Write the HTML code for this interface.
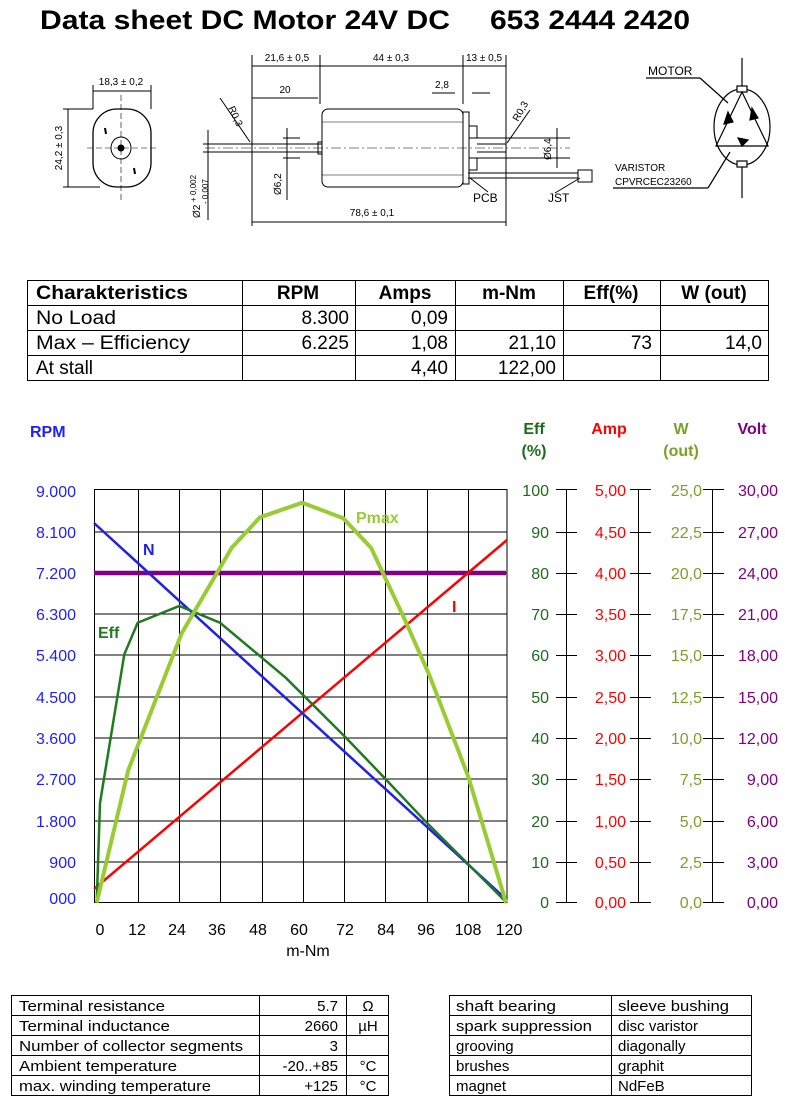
<!DOCTYPE html>
<html><head><meta charset="utf-8"><style>
html,body{margin:0;padding:0;background:#fff;}
svg{display:block;font-family:"Liberation Sans",Arial,sans-serif;}
</style></head><body>
<svg width="785" height="1119" viewBox="0 0 785 1119" xmlns="http://www.w3.org/2000/svg">
<text x="40" y="29" font-size="27" font-weight="bold" textLength="410" lengthAdjust="spacingAndGlyphs">Data sheet DC Motor 24V DC</text>
<text x="490" y="29" font-size="27" font-weight="bold" textLength="200" lengthAdjust="spacingAndGlyphs">653 2444 2420</text>

<g stroke="#000" fill="none" stroke-width="1">
  <rect x="93" y="109" width="58" height="78" rx="24" ry="24" stroke-width="1.3"/>
  <ellipse cx="121" cy="148" rx="10" ry="11"/>
  <circle cx="121" cy="148" r="3" fill="#000"/>
  <line x1="87" y1="148" x2="158" y2="148" stroke-dasharray="6,3" stroke-width="0.6"/>
  <line x1="121" y1="95" x2="121" y2="200" stroke-dasharray="6,3" stroke-width="0.6"/>
  <line x1="105" y1="128" x2="106" y2="134" stroke-width="2"/>
  <line x1="134" y1="168" x2="135" y2="174" stroke-width="2"/>
  <line x1="93" y1="91" x2="151" y2="91"/>
  <line x1="93" y1="85" x2="93" y2="109"/><line x1="151" y1="85" x2="151" y2="109"/>
  <line x1="68" y1="109" x2="68" y2="187"/>
  <line x1="63" y1="109" x2="93" y2="109"/><line x1="63" y1="187" x2="100" y2="187"/>
  <rect x="322" y="109" width="141" height="78" rx="6"/>
  <line x1="322" y1="122" x2="463" y2="122" stroke-width="0.6"/>
  <line x1="322" y1="175" x2="463" y2="175" stroke-width="0.6"/>
  <rect x="463" y="112" width="6" height="72"/>
  <rect x="469" y="126" width="8" height="12"/><rect x="469" y="158" width="8" height="12"/>
  <line x1="252" y1="144" x2="322" y2="144"/><line x1="252" y1="152" x2="322" y2="152"/>
  <line x1="477" y1="144" x2="506" y2="144"/><line x1="477" y1="152" x2="506" y2="152"/>
  <rect x="318" y="142" width="4" height="12"/>
  <line x1="205" y1="148" x2="570" y2="148" stroke-dasharray="10,3,2,3" stroke-width="0.6"/>
  <line x1="468" y1="173" x2="578" y2="173"/><line x1="468" y1="178" x2="578" y2="178"/>
  <rect x="578" y="170" width="14" height="12"/>
  <line x1="252" y1="55" x2="252" y2="226"/>
  <line x1="320" y1="55" x2="320" y2="104"/>
  <line x1="463" y1="55" x2="463" y2="104"/>
  <line x1="506" y1="55" x2="506" y2="226"/>
  <line x1="252" y1="66" x2="506" y2="66"/>
  <line x1="252" y1="98" x2="318" y2="98"/>
  <line x1="432" y1="93" x2="455" y2="93"/><line x1="472" y1="93" x2="490" y2="93"/>
  <line x1="252" y1="222" x2="506" y2="222"/>
  <line x1="287" y1="128" x2="287" y2="200"/>
  <line x1="283" y1="138" x2="300" y2="138"/><line x1="283" y1="158" x2="300" y2="158"/>
  <line x1="557" y1="128" x2="557" y2="168"/>
  <line x1="475" y1="138" x2="570" y2="138"/><line x1="475" y1="158" x2="570" y2="158"/>
  <line x1="208" y1="130" x2="208" y2="220"/>
  <line x1="203" y1="144" x2="252" y2="144"/><line x1="203" y1="152" x2="252" y2="152"/>
  <line x1="220" y1="98" x2="250" y2="142"/>
  <line x1="530" y1="110" x2="507" y2="143"/>
  <line x1="470" y1="178" x2="488" y2="192"/>
  <line x1="555" y1="193" x2="580" y2="178"/>
</g>
<g font-size="10" fill="#000">
  <text x="121" y="85" text-anchor="middle">18,3 ± 0,2</text>
  <text transform="translate(62,148) rotate(-90)" text-anchor="middle">24,2 ± 0,3</text>
  <text x="287" y="61" text-anchor="middle">21,6 ± 0,5</text>
  <text x="391" y="61" text-anchor="middle">44 ± 0,3</text>
  <text x="484" y="61" text-anchor="middle">13 ± 0,5</text>
  <text x="285" y="93" text-anchor="middle">20</text>
  <text x="442" y="88" text-anchor="middle">2,8</text>
  <text x="372" y="216" text-anchor="middle">78,6 ± 0,1</text>
  <text transform="translate(228,108) rotate(65)">R0,3</text>
  <text transform="translate(518,122) rotate(-60)">R0,3</text>
  <text transform="translate(281,195) rotate(-90)">Ø6,2</text>
  <text transform="translate(551,160) rotate(-90)">Ø6,4</text>
  <text transform="translate(200,218) rotate(-90)">Ø2 <tspan font-size="8" dy="-4">+ 0,002</tspan></text>
  <text transform="translate(208,218) rotate(-90)" font-size="8" dx="14">- 0,007</text>
  <text x="473" y="202" font-size="12">PCB</text>
  <text x="548" y="202" font-size="12">JST</text>
  <text x="648" y="75" font-size="12">MOTOR</text>
  <text x="615" y="171" font-size="10">VARISTOR</text>
  <text x="615" y="185" font-size="10">CPVRCEC23260</text>
</g>
<g stroke="#000" fill="none" stroke-width="1.2">
  <line x1="742" y1="58" x2="742" y2="198"/>
  <ellipse cx="742" cy="127" rx="28" ry="38" fill="#fff"/>
  <rect x="737" y="86" width="10" height="6" fill="#fff"/>
  <rect x="737" y="161" width="10" height="6" fill="#fff"/>
  <polygon points="742,92 716,146 768,146"/>
  <line x1="646" y1="78" x2="700" y2="78"/><line x1="700" y1="78" x2="728" y2="103"/>
  <line x1="613" y1="188" x2="708" y2="188"/><line x1="708" y1="188" x2="730" y2="152"/>
  <polygon points="728,112 733,122 724,124" fill="#000"/>
  <polygon points="752,108 758,118 750,120" fill="#000"/>
  <polygon points="738,138 748,140 742,146" fill="#000"/>
</g>

<g stroke="#000" stroke-width="1" fill="none">
  <rect x="27.5" y="280.5" width="741" height="100"/>
  <line x1="27" y1="305.5" x2="769" y2="305.5"/>
  <line x1="27" y1="330.5" x2="769" y2="330.5"/>
  <line x1="27" y1="355.5" x2="769" y2="355.5"/>
  <line x1="242.5" y1="280" x2="242.5" y2="381"/>
  <line x1="355.5" y1="280" x2="355.5" y2="381"/>
  <line x1="455.5" y1="280" x2="455.5" y2="381"/>
  <line x1="563.5" y1="280" x2="563.5" y2="381"/>
  <line x1="660.5" y1="280" x2="660.5" y2="381"/>
</g>
<g font-size="19" fill="#000">
  <g font-weight="bold">
  <text x="36" y="299" textLength="152" lengthAdjust="spacingAndGlyphs">Charakteristics</text>
  <text x="298" y="299" text-anchor="middle">RPM</text>
  <text x="405" y="299" text-anchor="middle">Amps</text>
  <text x="509" y="299" text-anchor="middle">m-Nm</text>
  <text x="611" y="299" text-anchor="middle">Eff(%)</text>
  <text x="714" y="299" text-anchor="middle">W (out)</text>
  </g>
  <text x="36" y="324" textLength="80" lengthAdjust="spacingAndGlyphs">No Load</text>
  <text x="349" y="324" text-anchor="end">8.300</text>
  <text x="448" y="324" text-anchor="end">0,09</text>
  <text x="36" y="349" textLength="154" lengthAdjust="spacingAndGlyphs">Max – Efficiency</text>
  <text x="349" y="349" text-anchor="end">6.225</text>
  <text x="448" y="349" text-anchor="end">1,08</text>
  <text x="556" y="349" text-anchor="end">21,10</text>
  <text x="652" y="349" text-anchor="end">73</text>
  <text x="762" y="349" text-anchor="end">14,0</text>
  <text x="36" y="374">At stall</text>
  <text x="448" y="374" text-anchor="end">4,40</text>
  <text x="556" y="374" text-anchor="end">122,00</text>
</g>

<g font-size="16" font-weight="bold">
  <text x="30" y="437" fill="#2020ff">RPM</text>
  <text x="534" y="434" fill="#1e6b1e" text-anchor="middle">Eff</text>
  <text x="534" y="456" fill="#1e6b1e" text-anchor="middle">(%)</text>
  <text x="609" y="434" fill="#ff0000" text-anchor="middle">Amp</text>
  <text x="681" y="434" fill="#7aa02a" text-anchor="middle">W</text>
  <text x="681" y="456" fill="#7aa02a" text-anchor="middle">(out)</text>
  <text x="752" y="434" fill="#800080" text-anchor="middle">Volt</text>
</g>
<g stroke="#000" stroke-width="1">
  <rect x="94.5" y="489.5" width="412.5" height="413" fill="none"/>
  <line x1="94" y1="532" x2="507" y2="532"/>
  <line x1="94" y1="573" x2="507" y2="573"/>
  <line x1="94" y1="614" x2="507" y2="614"/>
  <line x1="94" y1="655" x2="507" y2="655"/>
  <line x1="94" y1="697" x2="507" y2="697"/>
  <line x1="94" y1="738" x2="507" y2="738"/>
  <line x1="94" y1="779" x2="507" y2="779"/>
  <line x1="94" y1="821" x2="507" y2="821"/>
  <line x1="94" y1="862" x2="507" y2="862"/>
  <line x1="138.5" y1="489" x2="138.5" y2="903"/>
  <line x1="179.5" y1="489" x2="179.5" y2="903"/>
  <line x1="220.5" y1="489" x2="220.5" y2="903"/>
  <line x1="262.5" y1="489" x2="262.5" y2="903"/>
  <line x1="303.5" y1="489" x2="303.5" y2="903"/>
  <line x1="344.5" y1="489" x2="344.5" y2="903"/>
  <line x1="385.5" y1="489" x2="385.5" y2="903"/>
  <line x1="427.5" y1="489" x2="427.5" y2="903"/>
  <line x1="468.5" y1="489" x2="468.5" y2="903"/>
</g>
<g font-size="16" fill="#2020ff" text-anchor="end">
  <text x="76" y="497">9.000</text><text x="76" y="538">8.100</text><text x="76" y="579">7.200</text>
  <text x="76" y="620">6.300</text><text x="76" y="661">5.400</text><text x="76" y="703">4.500</text>
  <text x="76" y="744">3.600</text><text x="76" y="785">2.700</text><text x="76" y="827">1.800</text>
  <text x="76" y="868">900</text><text x="76" y="904">000</text>
</g>
<g font-size="16" fill="#000" text-anchor="middle">
  <text x="100" y="935">0</text><text x="137" y="935">12</text><text x="177" y="935">24</text>
  <text x="217" y="935">36</text><text x="258" y="935">48</text><text x="299" y="935">60</text>
  <text x="345" y="935">72</text><text x="386" y="935">84</text><text x="426" y="935">96</text>
  <text x="468" y="935">108</text><text x="509" y="935">120</text>
  <text x="308" y="956">m-Nm</text>
</g>
<line x1="94" y1="573" x2="506" y2="573" stroke="#800080" stroke-width="4.5"/>
<line x1="94" y1="889" x2="507" y2="540" stroke="#ff0000" stroke-width="2.5"/>
<line x1="94" y1="523" x2="507" y2="900" stroke="#2020e8" stroke-width="2.5"/>
<polyline fill="none" stroke="#1e7b1e" stroke-width="2.5" points="96.7,902.7 100,803 124.3,654.3 137.7,622.7 179.3,606 220,622.7 285.7,677.7 345,736.7 383.3,776.7 427.3,823.3 506.7,902.7"/>
<polyline fill="none" stroke="#99cc33" stroke-width="4" stroke-linejoin="round" points="96.7,902.7 128.3,770 181.7,633.3 231.7,547.7 260,517.3 302.3,502.7 343.3,518.3 371,547.7 405,620 430,676.7 468.3,776.7 506,902.7"/>
<g font-size="16" font-weight="bold">
  <text x="143" y="555" fill="#2020e8">N</text>
  <text x="356" y="523" fill="#99cc33">Pmax</text>
  <text x="452" y="612" fill="#ff0000">I</text>
  <text x="98" y="638" fill="#1e7b1e">Eff</text>
</g>
<g stroke="#000" stroke-width="1">
  <line x1="566.5" y1="489" x2="566.5" y2="903"/>
  <line x1="638.5" y1="489" x2="638.5" y2="903"/>
  <line x1="712.5" y1="489" x2="712.5" y2="903"/>
  <g id="tk">
  <line x1="556" y1="489.5" x2="577" y2="489.5"/><line x1="556" y1="532.5" x2="577" y2="532.5"/>
  <line x1="556" y1="573.5" x2="577" y2="573.5"/><line x1="556" y1="614.5" x2="577" y2="614.5"/>
  <line x1="556" y1="655.5" x2="577" y2="655.5"/><line x1="556" y1="697.5" x2="577" y2="697.5"/>
  <line x1="556" y1="738.5" x2="577" y2="738.5"/><line x1="556" y1="779.5" x2="577" y2="779.5"/>
  <line x1="556" y1="821.5" x2="577" y2="821.5"/><line x1="556" y1="862.5" x2="577" y2="862.5"/>
  <line x1="556" y1="902.5" x2="577" y2="902.5"/>
  </g>
  <use href="#tk" x="74"/>
  <use href="#tk" x="147"/>
</g>
<g font-size="16" text-anchor="end">
  <g fill="#1e6b1e">
  <text x="549" y="496">100</text><text x="549" y="538">90</text><text x="549" y="579">80</text>
  <text x="549" y="620">70</text><text x="549" y="661">60</text><text x="549" y="703">50</text>
  <text x="549" y="744">40</text><text x="549" y="785">30</text><text x="549" y="827">20</text>
  <text x="549" y="868">10</text><text x="549" y="908">0</text>
  </g>
  <g fill="#ff0000">
  <text x="626" y="496">5,00</text><text x="626" y="538">4,50</text><text x="626" y="579">4,00</text>
  <text x="626" y="620">3,50</text><text x="626" y="661">3,00</text><text x="626" y="703">2,50</text>
  <text x="626" y="744">2,00</text><text x="626" y="785">1,50</text><text x="626" y="827">1,00</text>
  <text x="626" y="868">0,50</text><text x="626" y="908">0,00</text>
  </g>
  <g fill="#7aa02a">
  <text x="702" y="496">25,0</text><text x="702" y="538">22,5</text><text x="702" y="579">20,0</text>
  <text x="702" y="620">17,5</text><text x="702" y="661">15,0</text><text x="702" y="703">12,5</text>
  <text x="702" y="744">10,0</text><text x="702" y="785">7,5</text><text x="702" y="827">5,0</text>
  <text x="702" y="868">2,5</text><text x="702" y="908">0,0</text>
  </g>
  <g fill="#800080">
  <text x="778" y="496">30,00</text><text x="778" y="538">27,00</text><text x="778" y="579">24,00</text>
  <text x="778" y="620">21,00</text><text x="778" y="661">18,00</text><text x="778" y="703">15,00</text>
  <text x="778" y="744">12,00</text><text x="778" y="785">9,00</text><text x="778" y="827">6,00</text>
  <text x="778" y="868">3,00</text><text x="778" y="908">0,00</text>
  </g>
</g>

<g stroke="#000" stroke-width="1" fill="none">
  <rect x="11.5" y="995.5" width="377" height="100"/>
  <line x1="11" y1="1015.5" x2="389" y2="1015.5"/><line x1="11" y1="1035.5" x2="389" y2="1035.5"/>
  <line x1="11" y1="1055.5" x2="389" y2="1055.5"/><line x1="11" y1="1075.5" x2="389" y2="1075.5"/>
  <line x1="259.5" y1="995" x2="259.5" y2="1096"/><line x1="346.5" y1="995" x2="346.5" y2="1096"/>
  <rect x="449.5" y="995.5" width="302" height="100"/>
  <line x1="449" y1="1015.5" x2="752" y2="1015.5"/><line x1="449" y1="1035.5" x2="752" y2="1035.5"/>
  <line x1="449" y1="1055.5" x2="752" y2="1055.5"/><line x1="449" y1="1075.5" x2="752" y2="1075.5"/>
  <line x1="611.5" y1="995" x2="611.5" y2="1096"/>
</g>
<g font-size="15" fill="#000">
  <text x="19" y="1011" textLength="146" lengthAdjust="spacingAndGlyphs">Terminal resistance</text>
  <text x="19" y="1031" textLength="151" lengthAdjust="spacingAndGlyphs">Terminal inductance</text>
  <text x="19" y="1051" textLength="224" lengthAdjust="spacingAndGlyphs">Number of collector segments</text>
  <text x="19" y="1071" textLength="158" lengthAdjust="spacingAndGlyphs">Ambient temperature</text>
  <text x="19" y="1091" textLength="192" lengthAdjust="spacingAndGlyphs">max. winding temperature</text>
  <g text-anchor="end">
  <text x="338" y="1011">5.7</text><text x="338" y="1031">2660</text><text x="338" y="1051">3</text>
  <text x="338" y="1071">-20..+85</text><text x="338" y="1091">+125</text>
  </g>
  <g text-anchor="middle">
  <text x="368" y="1011">Ω</text><text x="368" y="1031">µH</text>
  <text x="368" y="1071">°C</text><text x="368" y="1091">°C</text>
  </g>
  <text x="456" y="1011" textLength="100" lengthAdjust="spacingAndGlyphs">shaft bearing</text>
  <text x="456" y="1031" textLength="136" lengthAdjust="spacingAndGlyphs">spark suppression</text>
  <text x="456" y="1051">grooving</text>
  <text x="456" y="1071">brushes</text>
  <text x="456" y="1091">magnet</text>
  <text x="618" y="1011" textLength="111" lengthAdjust="spacingAndGlyphs">sleeve bushing</text>
  <text x="618" y="1031">disc varistor</text>
  <text x="618" y="1051">diagonally</text>
  <text x="618" y="1071">graphit</text>
  <text x="618" y="1091">NdFeB</text>
</g>
</svg>
</body></html>
